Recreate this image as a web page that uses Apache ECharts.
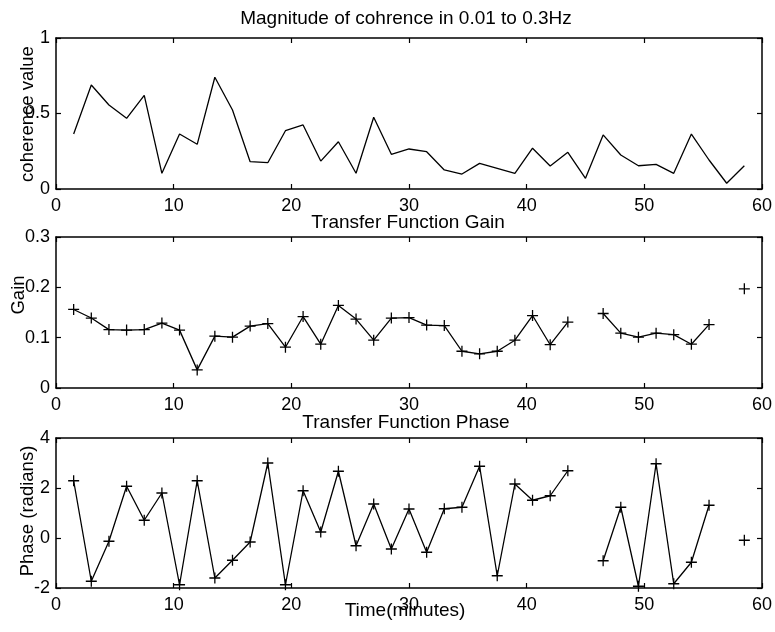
<!DOCTYPE html>
<html>
<head>
<meta charset="utf-8">
<script src="https://cdn.jsdelivr.net/npm/echarts@6/dist/echarts.min.js"></script>
<style>
html,body{margin:0;padding:0;background:#fff;}
#c{width:775px;height:632px;}
</style>
</head>
<body>
<div id="c"></div>
<script>
const minutes = [1.5,3,4.5,6,7.5,9,10.5,12,13.5,15,16.5,18,19.5,21,22.5,24,25.5,27,28.5,30,
  31.5,33,34.5,36,37.5,39,40.5,42,43.5,45,46.5,48,49.5,51,52.5,54,55.5,57,58.5];
const coherence = [0.364,0.689,0.556,0.468,0.62,0.104,0.364,0.296,0.74,0.523,0.181,0.174,0.386,0.424,0.185,0.313,0.104,0.475,0.23,0.265,
  0.247,0.126,0.099,0.17,0.137,0.104,0.27,0.152,0.243,0.071,0.358,0.225,0.154,0.163,0.104,0.364,0.192,0.038,0.154];
const gain = [0.156,0.139,0.116,0.115,0.116,0.129,0.115,0.036,0.103,0.101,0.123,0.128,0.081,0.142,0.087,0.164,0.137,0.095,0.139,0.140,
  0.125,0.124,0.073,0.068,0.073,0.095,0.144,0.086,0.131,null,0.148,0.109,0.101,0.109,0.106,0.087,0.126,null,0.197];
const phase = [2.29,-1.73,-0.13,2.07,0.71,1.8,-1.87,2.29,-1.6,-0.89,-0.16,3.0,-1.87,1.89,0.24,2.67,-0.31,1.36,-0.44,1.16,
  -0.57,1.17,1.23,2.87,-1.51,2.16,1.51,1.69,2.69,null,-0.91,1.23,-1.93,2.97,-1.83,-0.97,1.31,null,-0.09];
const xTicks = {min:0, max:60, interval:10};
const yRanges = [{min:0,max:1,interval:0.5},{min:0,max:0.3,interval:0.1},{min:-2,max:4,interval:2}];

const FONT = 'Liberation Sans, Arial, sans-serif';
const grids = [
  {left:56, right:13, top:38, height:151},
  {left:56, right:13, top:237, height:151},
  {left:56, right:13, top:438, height:150}
];
const lineStyle = {color:'#000', width:1.5};
const tick = {show:true, inside:true, length:5, lineStyle:{color:'#000', width:1.2}};
const label = {color:'#000', fontFamily:FONT, fontSize:18};

const xAxis = [], yAxis = [];
grids.forEach((g,i)=>{
  xAxis.push({type:'value', gridIndex:i, position:'bottom', min:xTicks.min, max:xTicks.max, interval:xTicks.interval,
    axisLine:{show:true, onZero:false, lineStyle}, axisTick:tick, splitLine:{show:false},
    axisLabel:Object.assign({margin:8}, label)});
  xAxis.push({type:'value', gridIndex:i, position:'top', min:xTicks.min, max:xTicks.max, interval:xTicks.interval,
    axisLine:{show:true, onZero:false, lineStyle}, axisTick:tick, splitLine:{show:false}, axisLabel:{show:false}});
  const r = yRanges[i];
  yAxis.push({type:'value', gridIndex:i, position:'left', min:r.min, max:r.max, interval:r.interval,
    axisLine:{show:true, onZero:false, lineStyle}, axisTick:tick, splitLine:{show:false},
    axisLabel:Object.assign({margin:6}, label)});
  yAxis.push({type:'value', gridIndex:i, position:'right', min:r.min, max:r.max, interval:r.interval,
    axisLine:{show:true, onZero:false, lineStyle}, axisTick:tick, splitLine:{show:false}, axisLabel:{show:false}});
});

const plus = 'path://M-0.7,-6 L0.7,-6 L0.7,-0.7 L6,-0.7 L6,0.7 L0.7,0.7 L0.7,6 L-0.7,6 L-0.7,0.7 L-6,0.7 L-6,-0.7 L-0.7,-0.7 Z';
function pairs(v){ return minutes.map((m,i)=>[m, v[i]]); }

const series = [
  {type:'line', xAxisIndex:0, yAxisIndex:0, data:pairs(coherence), showSymbol:false, lineStyle:{color:'#000', width:1.3}, animation:false},
  {type:'line', xAxisIndex:2, yAxisIndex:2, data:pairs(gain), symbol:plus, symbolSize:11, showAllSymbol:true, connectNulls:false,
    itemStyle:{color:'#000'}, lineStyle:{color:'#000', width:1.3}, animation:false},
  {type:'line', xAxisIndex:4, yAxisIndex:4, data:pairs(phase), symbol:plus, symbolSize:11, showAllSymbol:true, connectNulls:false,
    itemStyle:{color:'#000'}, lineStyle:{color:'#000', width:1.3}, animation:false}
];

function txt(x,y,t,rot,size){
  return {type:'text', x:x, y:y, rotation:rot||0,
    style:{text:t, fill:'#000', font:(size||19)+'px '+FONT, textAlign:'center', textVerticalAlign:'middle'}};
}

const chart = echarts.init(document.getElementById('c'), null, {renderer:'canvas'});
chart.setOption({
  backgroundColor:'#fff',
  animation:false,
  grid:grids,
  xAxis:xAxis,
  yAxis:yAxis,
  series:series,
  graphic:[
    txt(406,19,'Magnitude of cohrence in 0.01 to 0.3Hz'),
    txt(408,223,'Transfer Function Gain'),
    txt(406,423,'Transfer Function Phase'),
    txt(405,611,'Time(minutes)'),
    txt(28,114,'coherence value',Math.PI/2,18.5),
    txt(19,295,'Gain',Math.PI/2,18.5),
    txt(28,511,'Phase (radians)',Math.PI/2,18.5)
  ]
});
</script>
</body>
</html>
